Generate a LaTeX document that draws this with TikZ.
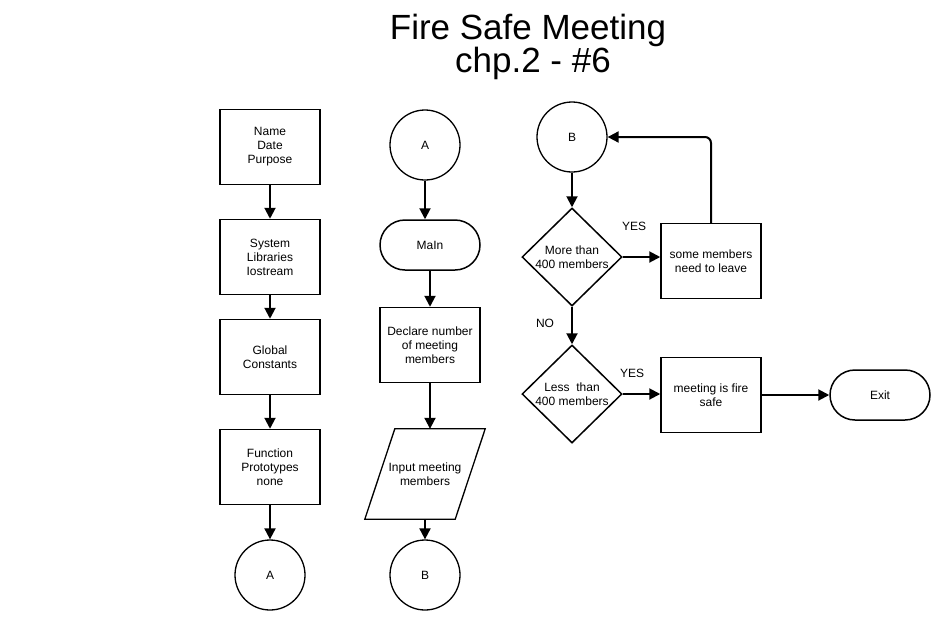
\documentclass[tikz,border=0pt]{standalone}
\usepackage{fontspec}
\setmainfont{Liberation Sans}
\usetikzlibrary{shapes.geometric,arrows.meta}

\tikzstyle{stepbox}=[draw,line width=1.5pt,rectangle,minimum width=100pt,minimum height=75pt,inner sep=0pt,align=center]
\tikzstyle{connector}=[draw,line width=1.3pt,circle,minimum size=70pt,inner sep=0pt]
\tikzstyle{terminal}=[draw,line width=1.5pt,rectangle,rounded corners=25pt,minimum width=100pt,minimum height=50pt,inner sep=0pt]
\tikzstyle{decision}=[draw,line width=1.5pt,diamond,minimum width=100pt,minimum height=98pt,inner sep=0pt,align=center]
\tikzstyle{io}=[rectangle,minimum width=90pt,minimum height=90pt,inner sep=0pt,align=center]
\tikzstyle{ioline}=[draw,line width=1.3pt,line join=miter]
\tikzstyle{edge}=[draw,line width=2pt,-{Triangle[length=11pt,width=11pt]}]
\tikzstyle{answer}=[font=\fontsize{12}{14}\selectfont]
\newcommand{\titlefont}{\fontsize{35}{35}\selectfont}

\begin{document}
\begin{tikzpicture}[x=1pt, y=-1pt, every node/.style={font=\fontsize{12}{14}\selectfont}]
    \useasboundingbox (0,0) rectangle (950,630);
    % title
    \node[anchor=base, font=\titlefont] (title) at (528,39) {Fire Safe Meeting};
    \node[anchor=base, font=\titlefont] (subtitle) at (533,72) {chp.2 - \#6};
    % process boxes
    \foreach \pos/\name/\txt in {{(270,147)/hdr/{Name\\Date\\Purpose}}, {(270,257)/libs/{System\\Libraries\\Iostream}},
        {(270,357)/glob/{Global\\Constants}}, {(270,467)/proto/{Function\\Prototypes\\none}},
        {(430,345)/decl/{Declare number\\of meeting\\members}}, {(711,261)/leave/{some members\\need to leave}},
        {(711,395)/safe/{meeting is fire\\safe}}}
        \node[stepbox] (\name) at \pos {\txt};
    % on-page connectors
    \foreach \pos/\name/\txt in {{(270,575)/conA/A}, {(425,145)/startA/A}, {(425,575)/conB/B}, {(572,137)/startB/B}}
        \node[connector] (\name) at \pos {\txt};
    \node[terminal] (main) at (430,245) {MaIn};
    \node[terminal] (exit) at (880,395) {Exit};
    \node[decision] (more) at (572,257) {More than\\400 members};
    \node[decision] (less) at (572,394) {Less\ \ than\\400 members};
    % input parallelogram
    \node[io] (input) at (425,474) {Input meeting\\members};
    \path[ioline] ([xshift=-15pt]input.south west) -- ([xshift=15pt]input.north west)
        -- ([xshift=15pt]input.north east) -- ([xshift=-15pt]input.south east) -- cycle;
    % arrows
    \foreach \source/\dest in {hdr/libs,libs/glob,glob/proto,proto/conA,main/decl,startB/more,more/less}
        \path[edge] (\source) -- (\dest);
    \path[edge] (startA) -- (startA |- main.north);
    \path[edge] (decl) -- (decl |- input.north);
    \path[edge] (input.south) -- (conB);
    \path[edge] (more.east) -- (more.east -| leave.west);
    \path[edge] (less.east) -- (less.east -| safe.west);
    \path[edge] (safe.east) -- (safe.east -| exit.west);
    \path[edge, rounded corners=6pt] (leave.north) |- (startB.east);
    % branch labels
    \node[answer] (yes1) at (634,226) {YES};
    \node[answer] (yes2) at (632,373) {YES};
    \node[answer] (no1) at (545,323) {NO};
\end{tikzpicture}
\end{document}
